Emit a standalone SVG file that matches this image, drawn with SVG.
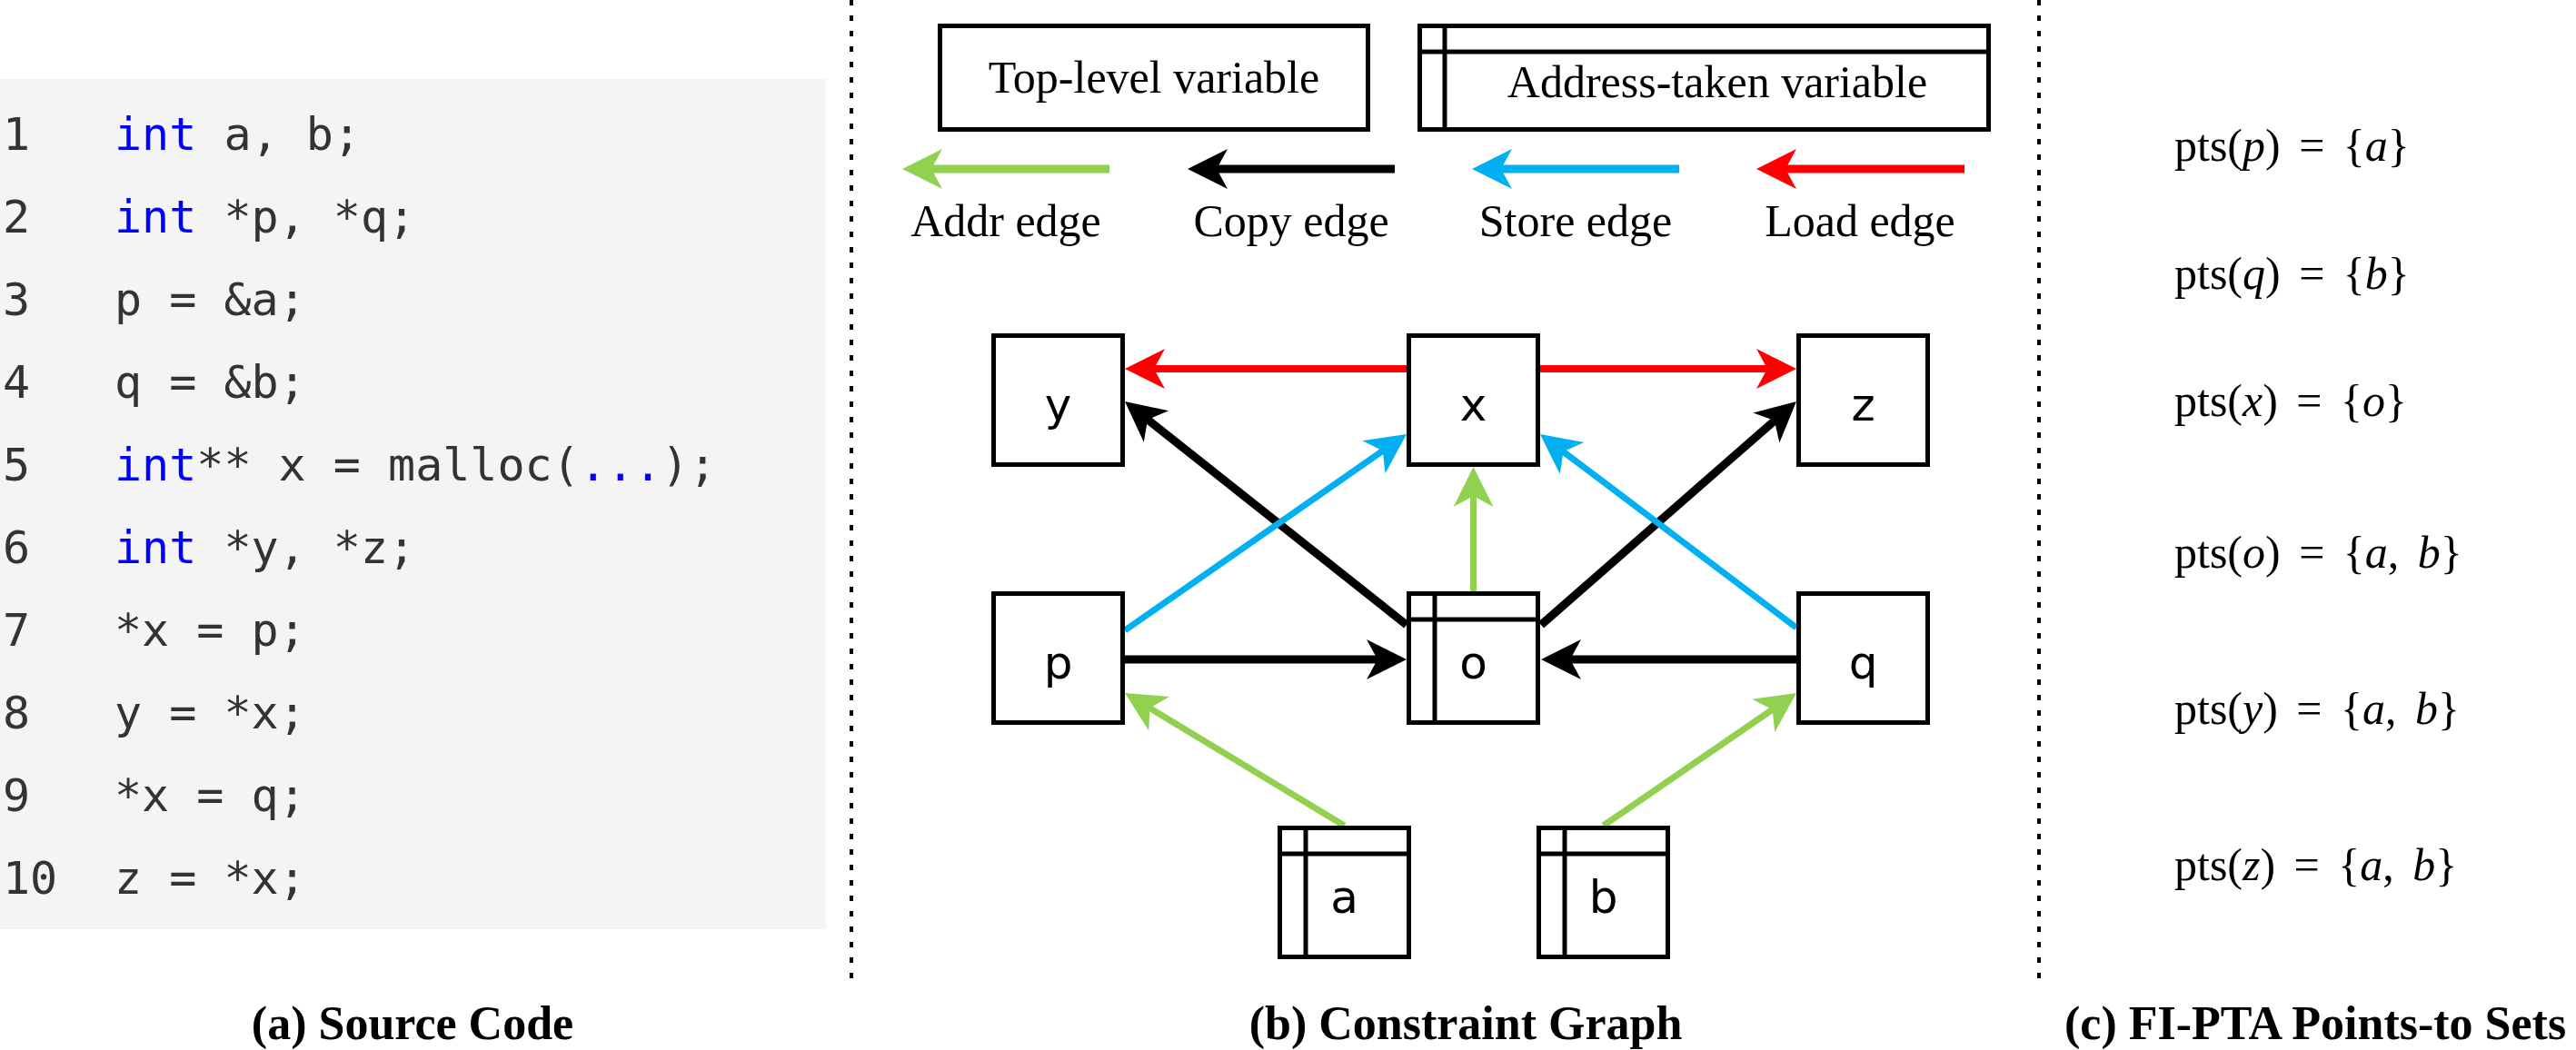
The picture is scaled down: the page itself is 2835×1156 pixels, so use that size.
<svg xmlns="http://www.w3.org/2000/svg" width="2835" height="1156" viewBox="0 0 2835 1156">
<style>
.code{font-family:"DejaVu Sans Mono","Liberation Mono",monospace;font-size:50px;fill:#333333}
.kw{fill:#0000ff}
.box{fill:#ffffff;stroke:#000000;stroke-width:5}
.inner{stroke:#000000;stroke-width:5;fill:none}
.lbl{font-family:"DejaVu Sans","Liberation Sans",sans-serif;font-size:50px;fill:#000000;text-anchor:middle}
.serif{font-family:"Liberation Serif",serif;font-size:50px;fill:#000000}
.mid{text-anchor:middle}
.cap{font-family:"Liberation Serif",serif;font-size:52px;font-weight:bold;fill:#000000}
.math{font-family:"Liberation Serif",serif;font-size:50px;fill:#000000;word-spacing:8px}
.it{font-style:italic}
.sep{stroke:#000000;stroke-width:4;stroke-dasharray:6 11}
.e{fill:none}
.addr{stroke:#92d050;stroke-width:7}
.copy{stroke:#000000;stroke-width:9}
.store{stroke:#00b0f0;stroke-width:7}
.load{stroke:#ff0000;stroke-width:8}
.leg{stroke-width:9}
</style>
<defs>
<marker id="mA" markerUnits="userSpaceOnUse" orient="auto" markerWidth="50" markerHeight="50" refX="14" refY="22" overflow="visible"><path d="M44,22 L0,0 L12,22 L0,44 Z" fill="#92d050"/></marker>
<marker id="mC" markerUnits="userSpaceOnUse" orient="auto" markerWidth="50" markerHeight="50" refX="14" refY="22" overflow="visible"><path d="M44,22 L0,0 L12,22 L0,44 Z" fill="#000000"/></marker>
<marker id="mS" markerUnits="userSpaceOnUse" orient="auto" markerWidth="50" markerHeight="50" refX="14" refY="22" overflow="visible"><path d="M44,22 L0,0 L12,22 L0,44 Z" fill="#00b0f0"/></marker>
<marker id="mL" markerUnits="userSpaceOnUse" orient="auto" markerWidth="50" markerHeight="50" refX="14" refY="22" overflow="visible"><path d="M44,22 L0,0 L12,22 L0,44 Z" fill="#ff0000"/></marker>
</defs>
<rect width="2835" height="1156" fill="#ffffff"/>

<g id="source-code">
<rect x="0" y="87" width="909" height="936" fill="#f4f4f4"/>
<text class="code" xml:space="preserve" x="3" y="165">1</text>
<text class="code" xml:space="preserve" x="126" y="165"><tspan class="kw">int</tspan> a, b;</text>
<text class="code" xml:space="preserve" x="3" y="256">2</text>
<text class="code" xml:space="preserve" x="126" y="256"><tspan class="kw">int</tspan> *p, *q;</text>
<text class="code" xml:space="preserve" x="3" y="347">3</text>
<text class="code" xml:space="preserve" x="126" y="347">p = &amp;a;</text>
<text class="code" xml:space="preserve" x="3" y="438">4</text>
<text class="code" xml:space="preserve" x="126" y="438">q = &amp;b;</text>
<text class="code" xml:space="preserve" x="3" y="529">5</text>
<text class="code" xml:space="preserve" x="126" y="529"><tspan class="kw">int</tspan>** x = malloc(<tspan class="kw">...</tspan>);</text>
<text class="code" xml:space="preserve" x="3" y="620">6</text>
<text class="code" xml:space="preserve" x="126" y="620"><tspan class="kw">int</tspan> *y, *z;</text>
<text class="code" xml:space="preserve" x="3" y="711">7</text>
<text class="code" xml:space="preserve" x="126" y="711">*x = p;</text>
<text class="code" xml:space="preserve" x="3" y="802">8</text>
<text class="code" xml:space="preserve" x="126" y="802">y = *x;</text>
<text class="code" xml:space="preserve" x="3" y="893">9</text>
<text class="code" xml:space="preserve" x="126" y="893">*x = q;</text>
<text class="code" xml:space="preserve" x="3" y="984">10</text>
<text class="code" xml:space="preserve" x="126" y="984">z = *x;</text>
</g>

<g id="separators">
<line class="sep" x1="937" y1="0" x2="937" y2="1082"/>
<line class="sep" x1="2244" y1="0" x2="2244" y2="1082"/>
</g>

<g id="legend">
<g id="legend-top-level">
<rect class="box" x="1034.5" y="28.5" width="471" height="114"/>
<text class="serif mid" x="1270" y="102">Top-level variable</text>
</g>
<g id="legend-address-taken">
<rect class="box" x="1562.5" y="28.5" width="626" height="114"/>
<line class="inner" x1="1590" y1="28.5" x2="1590" y2="142.5"/>
<line class="inner" x1="1562.5" y1="57" x2="2188.5" y2="57"/>
<text class="serif mid" x="1890" y="107">Address-taken variable</text>
</g>
<g id="legend-edges">
<line class="e addr leg" x1="1221" y1="186" x2="1023" y2="186" marker-end="url(#mA)"/>
<text class="serif mid" x="1107" y="260">Addr edge</text>
<line class="e copy leg" x1="1535" y1="186" x2="1337" y2="186" marker-end="url(#mC)"/>
<text class="serif mid" x="1421" y="260">Copy edge</text>
<line class="e store leg" x1="1848" y1="186" x2="1650" y2="186" marker-end="url(#mS)"/>
<text class="serif mid" x="1734" y="260">Store edge</text>
<line class="e load leg" x1="2162" y1="186" x2="1963" y2="186" marker-end="url(#mL)"/>
<text class="serif mid" x="2047" y="260">Load edge</text>
</g>
</g>

<g id="connectors">
<line class="e load" x1="1548" y1="406" x2="1268" y2="406" marker-end="url(#mL)"/>
<line class="e load" x1="1695" y1="406" x2="1947" y2="406" marker-end="url(#mL)"/>
<line class="e copy" x1="1548" y1="688" x2="1261.5" y2="460.7" marker-end="url(#mC)"/>
<line class="e copy" x1="1696" y1="688" x2="1954.4" y2="461.8" marker-end="url(#mC)"/>
<line class="e store" x1="1238" y1="694" x2="1523.4" y2="495.2" marker-end="url(#mS)"/>
<line class="e store" x1="1977" y1="691" x2="1718.9" y2="496.1" marker-end="url(#mS)"/>
<line class="e addr" x1="1621.5" y1="651" x2="1621.5" y2="544" marker-end="url(#mA)"/>
<line class="e copy" x1="1238" y1="726" x2="1518" y2="726" marker-end="url(#mC)"/>
<line class="e copy" x1="1977" y1="726" x2="1726" y2="726" marker-end="url(#mC)"/>
<line class="e addr" x1="1479.5" y1="909" x2="1263.7" y2="778.5" marker-end="url(#mA)"/>
<line class="e addr" x1="1764.5" y1="909" x2="1952.3" y2="780" marker-end="url(#mA)"/>
</g>

<g id="node-y"><rect class="box" x="1093.5" y="369.5" width="142" height="142"/><text class="lbl" x="1164.5" y="463">y</text></g>
<g id="node-x"><rect class="box" x="1550.5" y="369.5" width="142" height="142"/><text class="lbl" x="1621.5" y="463">x</text></g>
<g id="node-z"><rect class="box" x="1979.5" y="369.5" width="142" height="142"/><text class="lbl" x="2050.5" y="463">z</text></g>
<g id="node-p"><rect class="box" x="1093.5" y="653.5" width="142" height="142"/><text class="lbl" x="1164.5" y="747">p</text></g>
<g id="node-o"><rect class="box" x="1550.5" y="653.5" width="142" height="142"/><line class="inner" x1="1579" y1="653.5" x2="1579" y2="795.5"/><line class="inner" x1="1550.5" y1="682" x2="1692.5" y2="682"/><text class="lbl" x="1621.5" y="747">o</text></g>
<g id="node-q"><rect class="box" x="1979.5" y="653.5" width="142" height="142"/><text class="lbl" x="2050.5" y="747">q</text></g>
<g id="node-a"><rect class="box" x="1408.5" y="911.5" width="142" height="142"/><line class="inner" x1="1437" y1="911.5" x2="1437" y2="1053.5"/><line class="inner" x1="1408.5" y1="940" x2="1550.5" y2="940"/><text class="lbl" x="1479.5" y="1005">a</text></g>
<g id="node-b"><rect class="box" x="1693.5" y="911.5" width="142" height="142"/><line class="inner" x1="1722" y1="911.5" x2="1722" y2="1053.5"/><line class="inner" x1="1693.5" y1="940" x2="1835.5" y2="940"/><text class="lbl" x="1764.5" y="1005">b</text></g>

<g id="points-to-sets">
<text class="math" x="2393" y="177">pts(<tspan class="it">p</tspan>) = {<tspan class="it">a</tspan>}</text>
<text class="math" x="2393" y="318">pts(<tspan class="it">q</tspan>) = {<tspan class="it">b</tspan>}</text>
<text class="math" x="2393" y="458">pts(<tspan class="it">x</tspan>) = {<tspan class="it">o</tspan>}</text>
<text class="math" x="2393" y="625">pts(<tspan class="it">o</tspan>) = {<tspan class="it">a</tspan>, <tspan class="it">b</tspan>}</text>
<text class="math" x="2393" y="797">pts(<tspan class="it">y</tspan>) = {<tspan class="it">a</tspan>, <tspan class="it">b</tspan>}</text>
<text class="math" x="2393" y="969">pts(<tspan class="it">z</tspan>) = {<tspan class="it">a</tspan>, <tspan class="it">b</tspan>}</text>
</g>

<g id="captions">
<text class="cap mid" x="454" y="1144">(a) Source Code</text>
<text class="cap mid" x="1613" y="1144">(b) Constraint Graph</text>
<text class="cap" x="2272" y="1144">(c) FI-PTA Points-to Sets</text>
</g>
</svg>
